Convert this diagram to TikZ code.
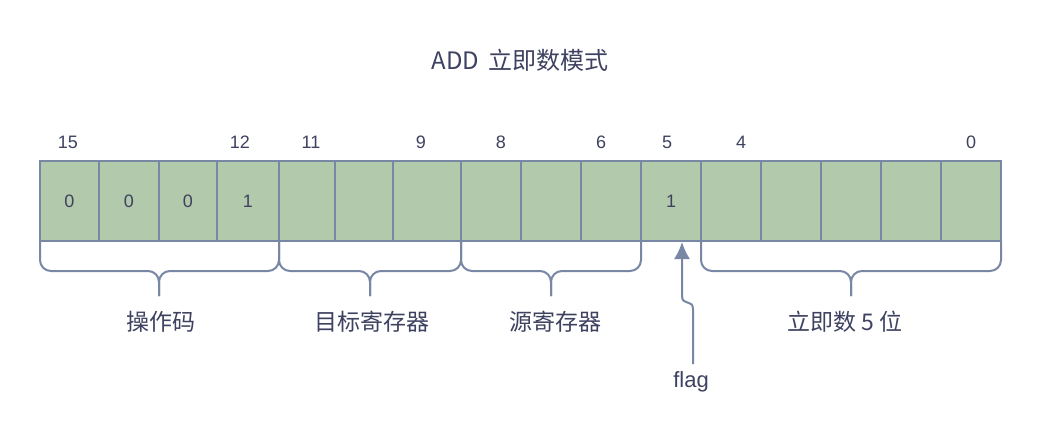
\documentclass[tikz,border=0pt]{standalone}
\usepackage{fontspec}
\setmainfont{Liberation Sans}
\newfontfamily\cjk{Noto Sans CJK SC}
\usetikzlibrary{arrows.meta}
\definecolor{cellfill}{HTML}{B2C9AB}
\definecolor{linec}{HTML}{7787A4}
\definecolor{textc}{HTML}{3E4260}
\tikzset{
  cellbox/.style={draw=linec, fill=cellfill, line width=2pt},
  bitnum/.style={text=textc, font=\fontsize{18}{18}\selectfont},
  celltxt/.style={text=textc, font=\fontsize{18}{18}\selectfont},
  lbl/.style={text=textc, font=\cjk\fontsize{23}{23}\selectfont},
  brace/.style={draw=linec, line width=2pt, rounded corners=11pt},
  arr/.style={draw=linec, line width=2pt, -{Latex[length=17pt,width=16pt]}},
}
\begin{document}
\begin{tikzpicture}[x=1pt,y=-1pt]
\useasboundingbox[fill=white] (0,0) rectangle (1042,442);
% cells
\foreach \a/\b [count=\i] in {40/99,99/159,159/217,217/279,279/335,335/393,393/461,461/521,521/581,581/641,641/701,701/761,761/821,821/881,881/941,941/1001}{
  \path[cellbox] (\a,161) rectangle (\b,241);
  \coordinate (c\i) at ({(\a+\b)/2},201);
}
\node[celltxt] (v1) at (c1) {0};
\node[celltxt] (v2) at (c2) {0};
\node[celltxt] (v3) at (c3) {0};
\node[celltxt] (v4) at (c4) {1};
\node[celltxt] (v11) at (c11) {1};
% bit numbers
\node[bitnum] (n15) at (68,142) {15};
\node[bitnum] (n12) at (240,142) {12};
\node[bitnum] (n11) at (311,142) {11};
\node[bitnum] (n9) at (421,142) {9};
\node[bitnum] (n8) at (501,142) {8};
\node[bitnum] (n6) at (601,142) {6};
\node[bitnum] (n5) at (667,142) {5};
\node[bitnum] (n4) at (741,142) {4};
\node[bitnum] (n0) at (971,142) {0};
% title
\node[text=textc, font=\cjk\fontsize{24}{24}\selectfont] (title) at (520,60) {ADD\hspace{4pt} 立即数模式};
% braces
\foreach \a/\m/\b in {40/159/279, 279/370/461, 461/551/641, 701/851/1001}{
  \draw[brace] (\a,241) -- (\a,271) -- (\m,271) -- (\m,296);
  \draw[brace] (\b,241) -- (\b,271) -- (\m,271) -- (\m,296);
}
% labels
\node[lbl] (l1) at (161,322) {操作码};
\node[lbl] (l2) at (372,322) {目标寄存器};
\node[lbl] (l3) at (555,322) {源寄存器};
\node[lbl] (l4) at (845,322) {立即数 5 位};
\node[text=textc, font=\fontsize{22}{22}\selectfont] (flag) at (691,382) {flag};
\coordinate (ft) at (682,242);
\draw[arr] (693,364) -- (693,309) .. controls (693,299) and (682,306) .. (682,296) -- (ft);
\end{tikzpicture}
\end{document}
